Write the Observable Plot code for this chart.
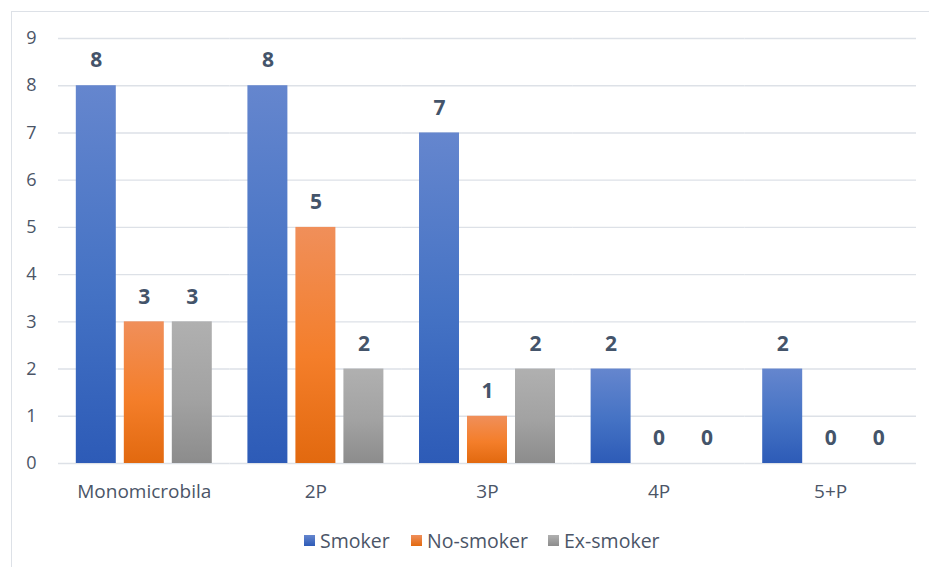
<!DOCTYPE html>
<html>
<head>
<meta charset="utf-8">
<script src="https://cdn.jsdelivr.net/npm/d3@7"></script>
<script src="https://cdn.jsdelivr.net/npm/@observablehq/plot@0.6"></script>
<style>
  html, body { margin: 0; padding: 0; background: #fff; }
  #wrap { position: relative; width: 929px; height: 567px; overflow: hidden; font-family: "Open Sans", "Noto Sans", sans-serif; }
  #frame { position: absolute; left: 11px; top: 11px; width: 1000px; height: 1000px; border-top: 1.5px solid #DDE1E7; border-left: 1.5px solid #DDE1E7; pointer-events: none; }
  #chart svg { display: block; }
  #legend { position: absolute; left: 0; top: 520px; width: 929px; height: 40px; }
  .item { position: absolute; top: 0; height: 40px; display: flex; align-items: center; font-size: 19.5px; color: #4B5567; }
  .sw { width: 11px; height: 11px; margin-right: 5px; }
</style>
</head>
<body>
<div id="wrap">
  <div id="chart"></div>
  <div id="legend"></div>
  <div id="frame"></div>
</div>
<script>
const categories = ["Monomicrobila", "2P", "3P", "4P", "5+P"];
const series = ["Smoker", "No-smoker", "Ex-smoker"];
const smoker    = [8, 8, 7, 2, 2];
const noSmoker  = [3, 5, 1, 0, 0];
const exSmoker  = [3, 2, 2, 0, 0];
const yTicks = [0, 1, 2, 3, 4, 5, 6, 7, 8, 9];

const gradIds = ["gSmoker", "gNoSmoker", "gExSmoker"];
const gradStops = [
  ["#6586CE", "#4472C4", "#2D5BB7"],
  ["#F08F5A", "#F47E2A", "#E2690F"],
  ["#B0B0B0", "#A2A2A2", "#8C8C8C"]
];

const valuesBySeries = [smoker, noSmoker, exSmoker];
const data = [];
categories.forEach((c, i) => {
  series.forEach((s, j) => {
    data.push({cat: c, series: s, value: valuesBySeries[j][i]});
  });
});

const textColor = "#4B5567";

const plot = Plot.plot({
  width: 929,
  height: 520,
  marginLeft: 58,
  marginRight: 13,
  marginTop: 38,
  marginBottom: 57,
  style: {fontFamily: "'Open Sans', 'Noto Sans', sans-serif", background: "transparent"},
  fx: {domain: categories, padding: 0, round: false, label: null},
  x: {domain: series, paddingInner: 0.167, paddingOuter: 0.371, round: false, axis: null},
  y: {domain: [0, 9], label: null},
  color: {domain: series, range: gradIds.map(id => `url(#${id})`)},
  marks: [
    Plot.ruleY(yTicks, {stroke: "#DDE1E7", strokeWidth: 1.4}),
    Plot.axisY(yTicks, {tickSize: 0, tickPadding: 22, fontSize: 18, fill: textColor, label: null, tickFormat: d => String(d)}),
    Plot.axisFx({anchor: "bottom", tickSize: 0, tickPadding: 21, fontSize: 19, fill: textColor, label: null}),
    Plot.barY(data, {fx: "cat", x: "series", y: "value", fill: "series"}),
    Plot.text(data, {fx: "cat", x: "series", y: "value", text: d => String(d.value), dy: -25, fontWeight: "bold", fontSize: 21, fill: "#44546A"})
  ]
});

const svg = d3.select(plot);
const defs = svg.insert("defs", ":first-child");
gradIds.forEach((id, k) => {
  const g = defs.append("linearGradient").attr("id", id).attr("x1", 0).attr("y1", 0).attr("x2", 0).attr("y2", 1);
  g.append("stop").attr("offset", "0%").attr("stop-color", gradStops[k][0]);
  g.append("stop").attr("offset", "55%").attr("stop-color", gradStops[k][1]);
  g.append("stop").attr("offset", "100%").attr("stop-color", gradStops[k][2]);
});
document.getElementById("chart").appendChild(plot);

const legendX = [304, 411, 548];
const legend = document.getElementById("legend");
series.forEach((s, k) => {
  const it = document.createElement("div");
  it.className = "item";
  it.style.left = legendX[k] + "px";
  const sw = document.createElement("div");
  sw.className = "sw";
  sw.style.background = `linear-gradient(${gradStops[k][0]}, ${gradStops[k][2]})`;
  it.appendChild(sw);
  const t = document.createElement("span");
  t.textContent = s;
  it.appendChild(t);
  legend.appendChild(it);
});
</script>
</body>
</html>
